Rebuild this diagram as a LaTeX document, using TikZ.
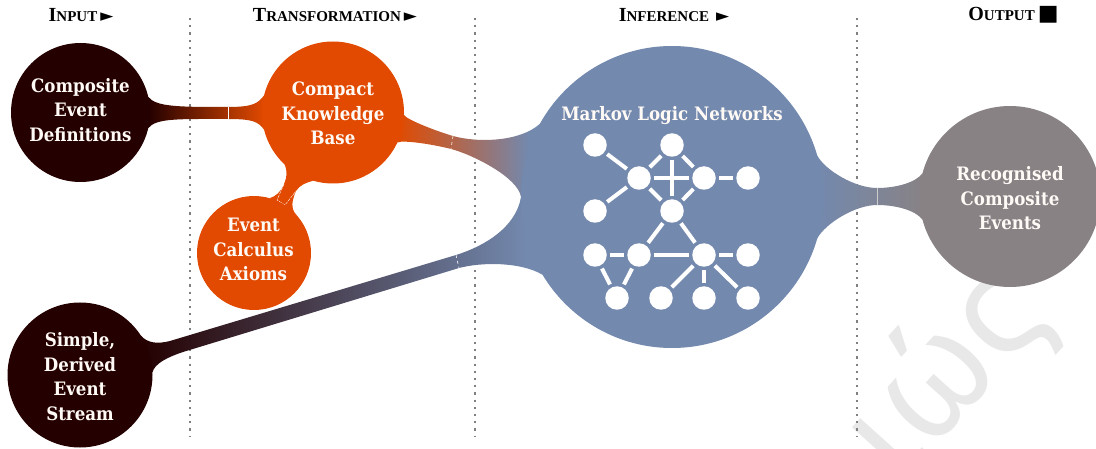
\documentclass[tikz,border=0pt]{standalone}
\usepackage{fontspec}
\usetikzlibrary{backgrounds}
\setmainfont{DejaVu Serif Condensed}
\newfontfamily\headfont{Liberation Serif}
\newfontfamily\symbfont{DejaVu Sans}
\newfontfamily\markfont{Noto Sans}
\definecolor{eventdark}{HTML}{240000}
\definecolor{kborange}{HTML}{E14A00}
\definecolor{mlnblue}{HTML}{7389AE}
\definecolor{outgray}{HTML}{888285}
\pgfdeclarehorizontalshading{kbtomln}{100bp}{color(0bp)=(kborange); color(25bp)=(kborange); color(71bp)=(mlnblue); color(100bp)=(mlnblue)}
\pgfdeclarehorizontalshading{streamtomln}{100bp}{color(0bp)=(eventdark); color(25bp)=(eventdark); color(73bp)=(mlnblue); color(100bp)=(mlnblue)}
\newcommand{\headcap}[2]{{\fontsize{20}{20}\selectfont #1}{\fontsize{15}{20}\selectfont #2}}
\newcommand{\headsym}[2][17]{{\symbfont\fontsize{#1}{#1}\selectfont #2}}
\tikzset{
    blob/.style = {
        circle,
        inner sep = 0pt,
        outer sep = 0pt,
        },
    blob text/.style = {
        align = center,
        inner sep = 0pt,
        text = white!96!orange,
        font = \fontsize{18.5}{24.5}\selectfont\bfseries,
        },
    input node/.style = {
        blob,
        fill = eventdark,
        },
    kb node/.style = {
        blob,
        fill = kborange,
        },
    mln node/.style = {
        blob,
        fill = mlnblue,
        },
    output node/.style = {
        blob,
        fill = outgray,
        },
    graph node/.style = {
        circle,
        fill = white,
        minimum size = 23.5pt,
        inner sep = 0pt,
        outer sep = 3.5pt,
        },
    graph edge/.style = {
        draw = white,
        line width = 4pt,
        },
    neck/.style = {
        draw = none,
        },
    seam/.style = {
        draw = white,
        line width = 0.6pt,
        },
    stage/.style = {
        draw = gray,
        line width = 2.2pt,
        dash pattern = on 2.2pt off 5pt,
        },
    heading/.style = {
        font = \headfont\bfseries,
        inner sep = 0pt,
        },
}
\begin{document}
\begin{tikzpicture}[x=1pt,y=-1pt]
    \useasboundingbox (0,0) rectangle (1096,449);

    \node[heading] (input) at (81,15) {\headcap{I}{NPUT}\kern3pt\headsym{►}};
    \node[heading] (transformation) at (335,15) {\headcap{T}{RANSFORMATION}\kern3pt\headsym{►}};
    \node[heading] (inference) at (674,15) {\headcap{I}{NFERENCE}\kern7pt\headsym{►}};
    \node[heading] (output) at (1013.5,14.5) {\headcap{O}{UTPUT}\kern3pt\headsym[22]{■}};

    \node[input node, minimum size=139pt] (ce) at (80.5,112.5) {};
    \node[kb node, minimum size=142pt] (kb) at (333,112.5) {};
    \node[kb node, minimum size=114pt] (ec) at (254,253) {};
    \node[input node, minimum size=145pt] (stream) at (80,375) {};
    \node[mln node, minimum size=302pt] (mln) at (672,197) {};
    \node[output node, minimum size=181pt] (rec) at (1010,196.5) {};

    \node[blob text] (ce text) at (80.5,110) {Composite\\Event\\Definitions};
    \node[blob text] (kb text) at (333,113.5) {Compact\\Knowledge\\Base};
    \node[blob text] (ec text) at (253.5,249.5) {Event\\Calculus\\Axioms};
    \node[blob text] (stream text) at (80,376.5) {Simple,\\Derived\\Event\\Stream};
    \node[blob text] (rec text) at (1010,198.5) {Recognised\\Composite\\Events};
    \node[blob text] (mln text) at (672,116) {Markov Logic Networks};

    \coordinate (stage1 top) at (190,18);
    \coordinate (stage1 bot) at (190,437);
    \coordinate (stage2 top) at (475,18);
    \coordinate (stage2 bot) at (475,437);
    \coordinate (stage3 top) at (857,18);
    \coordinate (stage3 bot) at (857,437);
    \coordinate (ce top) at (228,107);
    \coordinate (ce bot) at (228,119);
    \coordinate (kb top) at (453,136);
    \coordinate (kb bot) at (451,149);
    \coordinate (st top) at (456,255);
    \coordinate (st bot) at (459,268);
    \coordinate (st left top) at (170,341);
    \coordinate (st left bot) at (183,352);
    \coordinate (rec top) at (877,188);
    \coordinate (rec bot) at (877,205);
    \coordinate (ec left) at (284,184);
    \coordinate (ec right) at (296,191);
    \coordinate (ec left low) at (277,200);
    \coordinate (ec right low) at (285,205);

    \begin{scope}[on background layer]
    \node[rotate=48, text=gray!18, font=\markfont\fontsize{140}{140}\selectfont] (mark) at (945,376) {ιώς};

    \draw[stage] (stage1 top) -- (stage1 bot);
    \draw[stage] (stage2 top) -- (stage2 bot);
    \draw[stage] (stage3 top) -- (stage3 bot);

    \path[neck, left color=eventdark, right color=kborange]
        (ce.13) .. controls +(8,10) and +(-50,0) .. (ce top)
        .. controls +(25,0) and +(-6,8) .. (kb.166) -- (kb.-166)
        .. controls +(-6,-8) and +(25,0) .. (ce bot)
        .. controls +(-50,0) and +(8,-10) .. (ce.-13) -- cycle;
    \path[neck, shade, shading=kbtomln]
        (kb.-2) .. controls +(3,5) and +(-14,-4) .. (kb top)
        .. controls +(25,7) and +(-20,18) .. (mln.151) -- (mln.180)
        .. controls +(-3,-20) and +(20,5) .. (kb bot)
        .. controls +(-15,-4) and +(6,-3) .. (kb.-25) -- cycle;
    \path[neck, shade, shading=streamtomln]
        (stream.33) .. controls +(7,8) and +(-12,3) .. (st left top) -- (st top)
        .. controls +(29,-9) and +(-5,30) .. (mln.180) -- (mln.-149)
        .. controls +(-22,-13) and +(23,-6) .. (st bot) -- (st left bot)
        .. controls +(-15,5) and +(2,-9) .. (stream.2) -- cycle;
    \path[neck, left color=mlnblue, right color=outgray]
        (mln.16) .. controls +(8,15) and +(-22,0) .. (rec top)
        .. controls +(20,0) and +(-6,9) .. (rec.165) -- (rec.-165)
        .. controls +(-6,-9) and +(20,0) .. (rec bot)
        .. controls +(-22,0) and +(8,-15) .. (mln.-16) -- cycle;
    \path[neck, fill=kborange]
        (kb.-133) .. controls +(3,7) and +(3,-7) .. (ec left)
        .. controls +(-3,8) and +(6,-2) .. (ec.74) -- (ec.42)
        .. controls +(-6,-6) and +(-4,9) .. (ec right)
        .. controls +(4,-6) and +(-8,2) .. (kb.-106) -- cycle;

    \draw[seam] (ce top) -- (ce bot);
    \draw[seam, dashed] (kb top) -- (kb bot);
    \draw[seam, dashed] (st top) -- (st bot);
    \draw[seam, draw=white!60!gray] (rec top) -- (rec bot);
    \draw[seam, line width=0.4pt, dashed, dash pattern=on 3pt off 1pt] (ec left) -- (ec left low) -- (ec right low) -- (ec right);
    \end{scope}

    \node[graph node] (g1) at (595,145) {};
    \node[graph node] (g2) at (672,145) {};
    \node[graph node] (g3) at (639,178) {};
    \node[graph node] (g4) at (704,178) {};
    \node[graph node] (g5) at (748,178) {};
    \node[graph node] (g6) at (595,211) {};
    \node[graph node] (g7) at (672,211) {};
    \node[graph node] (g8) at (595,255) {};
    \node[graph node] (g9) at (639,255) {};
    \node[graph node] (g10) at (704,255) {};
    \node[graph node] (g11) at (748,255) {};
    \node[graph node] (g12) at (617,298) {};
    \node[graph node] (g13) at (661,298) {};
    \node[graph node] (g14) at (704,298) {};
    \node[graph node] (g15) at (748,298) {};

    \path (g1) edge[graph edge] (g3);
    \path (g2) edge[graph edge] (g3);
    \path (g2) edge[graph edge] (g4);
    \path (g2) edge[graph edge] (g7);
    \path (g3) edge[graph edge] (g4);
    \path (g3) edge[graph edge] (g6);
    \path (g3) edge[graph edge] (g7);
    \path (g4) edge[graph edge] (g5);
    \path (g4) edge[graph edge] (g7);
    \path (g7) edge[graph edge] (g9);
    \path (g7) edge[graph edge] (g10);
    \path (g8) edge[graph edge] (g9);
    \path (g9) edge[graph edge] (g10);
    \path (g10) edge[graph edge] (g11);
    \path (g8) edge[graph edge] (g12);
    \path (g9) edge[graph edge] (g12);
    \path (g10) edge[graph edge] (g13);
    \path (g10) edge[graph edge] (g14);
    \path (g10) edge[graph edge] (g15);
\end{tikzpicture}
\end{document}
